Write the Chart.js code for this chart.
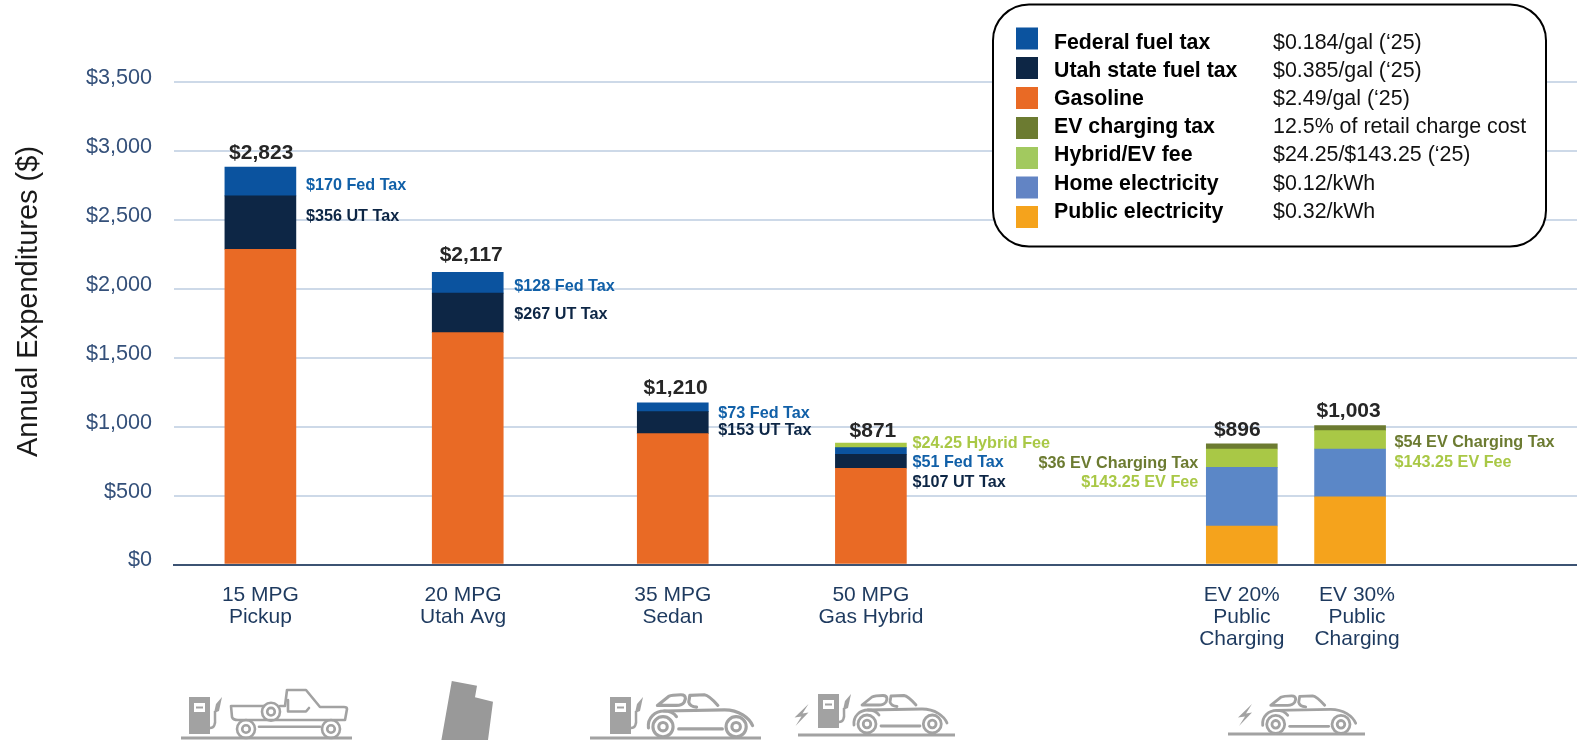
<!DOCTYPE html>
<html>
<head>
<meta charset="utf-8">
<title>Annual Expenditures by Vehicle</title>
<script src="https://cdn.jsdelivr.net/npm/chart.js@4/dist/chart.umd.min.js"></script>
<style>
html,body{margin:0;padding:0;background:#fff;overflow:hidden}
canvas{display:block}
</style>
</head>
<body>
<canvas id="c" width="1577" height="740"></canvas>
<script>
// ---- data ----
const categories = [["15 MPG","Pickup"],["20 MPG","Utah Avg"],["35 MPG","Sedan"],["50 MPG","Gas Hybrid"],["EV 20%","Public","Charging"],["EV 30%","Public","Charging"]];
const gasoline   = [2287,1682,949,698,null,null];
const utahTax    = [387,286,160,102,null,null];
const federalTax = [208,152,63,48,null,null];
const publicElec = [null,null,null,null,279,490];
const homeElec   = [null,null,null,null,426,348];
const hybridEvFee= [null,null,null,32,133,133];
const evTax      = [null,null,null,null,37,36];
const totals     = ["$2,823","$2,117","$1,210","$871","$896","$1,003"];
const yTicks     = [0,500,1000,1500,2000,2500,3000,3500];
const legendNames= ["Federal fuel tax","Utah state fuel tax","Gasoline","EV charging tax","Hybrid/EV fee","Home electricity","Public electricity"];
const legendRates= ["$0.184/gal (\u201825)","$0.385/gal (\u201825)","$2.49/gal (\u201825)","12.5% of retail charge cost","$24.25/$143.25 (\u201825)","$0.12/kWh","$0.32/kWh"];

// ---- styles and layout (not data) ----
const FONT = '"Liberation Sans", Arial, sans-serif';
const C = {fed:'#0B539F', ut:'#0D2645', gas:'#E96A25', tax:'#6C7B31', fee:'#A9C846', home:'#5B87C7', pub:'#F5A31C'};
const legendColors = [C.fed,C.ut,C.gas,C.tax,'#A2C95F','#6284C4',C.pub];
const legendRowY = [42.7,70.7,98.7,127,155,183.7,211.7];
const legendSwatchY = [27.5,57,87,117,147,176.5,206];
const fedText = '#1160A8';
const callouts = [
  ["$170 Fed Tax",fedText,0,'left',185.3,1],["$356 UT Tax",C.ut,0,'left',216.7,1],
  ["$128 Fed Tax",fedText,1,'left',286.6,2],["$267 UT Tax",C.ut,1,'left',314.8,2],
  ["$73 Fed Tax",fedText,2,'left',413.7,1],["$153 UT Tax",C.ut,2,'left',431,1],
  ["$24.25 Hybrid Fee",C.fee,3,'left',443.3,-3],["$51 Fed Tax",fedText,3,'left',462.7,-3],["$107 UT Tax",C.ut,3,'left',482.7,-3],
  ["$36 EV Charging Tax",C.tax,4,'right',463.7,-1],["$143.25 EV Fee",C.fee,4,'right',483,-1],
  ["$54 EV Charging Tax",C.tax,5,'left',443,0],["$143.25 EV Fee",C.fee,5,'left',463,0]
];
const totalLabelY = [153,255.5,388,430.8,429.8,411.5];
const totalLabelDx = [0.8,3.5,2.8,2,-4.5,-1.5];

// The vehicle spacing is uneven, so blank categories sit between the vehicles.
const leadSlots = 37, gapSlots = [90,89,86,161,47], tailSlots = 98;
const labelSlotShift = [0,-2,0,0,0,3];
const slotIndex = []; gapSlots.reduce((p,g,i)=>{ if(i===0) slotIndex.push(p); slotIndex.push(p+g); return p+g; }, leadSlots);
const slotCount = slotIndex[slotIndex.length-1] + 1 + tailSlots;
const slotLabels = Array.from({length:slotCount},()=> '');
slotIndex.forEach((s,i)=>{ slotLabels[s+labelSlotShift[i]]=categories[i]; });
function spread(series){ const out=new Array(slotCount).fill(null); slotIndex.forEach((s,i)=>{out[s]=series[i];}); return out; }
const ds=(label,data,color)=>({label,data:spread(data),backgroundColor:color,borderWidth:0,barThickness:71,stack:'s'});

// ---- vehicle pictograms ----
const GREY='#A2A2A2';
function pump(ctx,x,y,h){
  ctx.save();ctx.fillStyle=GREY;ctx.fillRect(x,y,21,h);
  ctx.fillStyle='#fff';ctx.fillRect(x+5,y+6,11,9);
  ctx.fillStyle=GREY;ctx.fillRect(x+7,y+9.5,7,2);
  ctx.strokeStyle=GREY;ctx.lineWidth=2.5;ctx.beginPath();
  ctx.moveTo(x+21,y+h-6);ctx.quadraticCurveTo(x+27,y+h-6,x+26,y+h-16);ctx.lineTo(x+26,y+14);ctx.stroke();
  ctx.fillStyle=GREY;ctx.beginPath();ctx.moveTo(x+25,y+16);ctx.lineTo(x+27,y+7);ctx.lineTo(x+33,y);ctx.lineTo(x+30,y+14);ctx.closePath();ctx.fill();
  ctx.restore();
}
function bolt(ctx,x,y){
  ctx.save();ctx.fillStyle=GREY;ctx.translate(x,y);ctx.beginPath();
  [[14,0],[0,13.5],[7,12.5],[1,22],[14,8.5],[8,9.5]].forEach((p,i)=>i?ctx.lineTo(p[0],p[1]):ctx.moveTo(p[0],p[1]));
  ctx.closePath();ctx.fill();ctx.restore();
}
function wheel(ctx,x,y,r){
  ctx.beginPath();ctx.arc(x,y,r,0,Math.PI*2);ctx.stroke();
  ctx.beginPath();ctx.arc(x,y,r*0.42,0,Math.PI*2);ctx.stroke();
}
function car(ctx,x,y,sx){
  ctx.save();ctx.translate(x,y);ctx.scale(sx,sx);ctx.strokeStyle=GREY;ctx.lineWidth=2.8;ctx.lineCap='round';ctx.lineJoin='round';
  ctx.stroke(new Path2D('M-13,1 C-14,-8 -7,-14 1,-14 C6,-14 10,-12 12,-9'));
  ctx.stroke(new Path2D('M1,-14 L55,-15 C68,-15 77,-8 80,-1'));
  ctx.stroke(new Path2D('M-5,-19 L5,-27 Q8,-28.5 16,-28.5 Q20,-28.5 20,-25 L19,-22 Q17,-19 12,-19 Z'));
  ctx.stroke(new Path2D('M24,-28 L37,-28.5 Q41,-28 49,-19 M24,-28 L23,-22 Q24,-18 30,-17.5'));
  ctx.stroke(new Path2D('M14,2 L53,2'));
  wheel(ctx,0,0,9);wheel(ctx,65.3,0,9);
  ctx.restore();
}
function pickup(ctx){
  ctx.save();ctx.strokeStyle=GREY;ctx.lineWidth=2.6;ctx.lineJoin='round';ctx.lineCap='round';
  ctx.stroke(new Path2D('M231,706 L264,706 M231,706 L232,717 Q233,720 238,720 L345,720 L347,709 Q347,707 344,707 L320,707 L306,690 L287,690 L285,706 L280,706'));
  ctx.stroke(new Path2D('M288,711.5 L306,711.5 L309,708 M288,700 L288,711'));
  ctx.stroke(new Path2D('M259,726.7 L320,726.7'));
  wheel(ctx,246,729,9);wheel(ctx,331,729,9);wheel(ctx,271,711.7,9);
  ctx.restore();
}
const iconsPlugin={id:'icons',afterDraw(chart){
  const ctx=chart.ctx;ctx.save();ctx.fillStyle=GREY;
  ctx.fillRect(181,736.5,171,3);ctx.fillRect(590,736.5,171,3);ctx.fillRect(798,733.5,157,3);ctx.fillRect(1228,732.5,137,3);
  pump(ctx,189,697,37);pickup(ctx);
  ctx.fillStyle='#999';ctx.beginPath();
  [[451.8,681],[477,685.7],[475,697.3],[493,701.7],[488,740],[441.4,740]].forEach((p,i)=>i?ctx.lineTo(p[0],p[1]):ctx.moveTo(p[0],p[1]));
  ctx.closePath();ctx.fill();
  pump(ctx,610,697,37);car(ctx,663,726.7,1.12);
  bolt(ctx,794.5,704);pump(ctx,818,694,34);car(ctx,867,724,1.0);
  bolt(ctx,1238,704);car(ctx,1275.7,724.3,1.0);
  ctx.restore();
}};

// ---- totals, callouts, axis title, legend box ----
const textPlugin={id:'texts',afterDraw(chart){
  const ctx=chart.ctx,xs=chart.scales.x;ctx.save();ctx.textBaseline='middle';
  // axis title
  ctx.save();ctx.translate(36.5,301.5);ctx.rotate(-Math.PI/2);ctx.textAlign='center';ctx.textBaseline='alphabetic';
  ctx.fillStyle='#1a1a1a';ctx.font='29px '+FONT;ctx.fillText('Annual Expenditures ($)',0,0);ctx.restore();
  // totals
  ctx.textAlign='center';ctx.fillStyle='#262626';ctx.font='bold 21px '+FONT;
  totals.forEach((t,i)=>ctx.fillText(t,xs.getPixelForValue(slotIndex[i])+totalLabelDx[i],totalLabelY[i]));
  // callouts
  ctx.font='bold 16.2px '+FONT;
  callouts.forEach(([t,col,i,side,y,dx])=>{
    const cx=xs.getPixelForValue(slotIndex[i]);ctx.fillStyle=col;
    if(side==='left'){ctx.textAlign='left';ctx.fillText(t,cx+44.5+dx,y);}
    else{ctx.textAlign='right';ctx.fillText(t,cx-42.5+dx,y);}
  });
  // legend box
  ctx.beginPath();ctx.roundRect(993,4.5,553,242,36);ctx.fillStyle='#fff';ctx.fill();
  ctx.lineWidth=2;ctx.strokeStyle='#000';ctx.stroke();
  ctx.textAlign='left';
  legendNames.forEach((n,i)=>{
    ctx.fillStyle=legendColors[i];ctx.fillRect(1016,legendSwatchY[i],22,22);
    ctx.fillStyle='#000';ctx.font='bold 21.3px '+FONT;ctx.fillText(n,1054,legendRowY[i]);
    ctx.fillStyle='#111';ctx.font='21.4px '+FONT;ctx.fillText(legendRates[i],1273,legendRowY[i]);
  });
  ctx.restore();
}};

new Chart(document.getElementById('c'),{
  type:'bar',
  data:{labels:slotLabels,datasets:[
    ds('Gasoline',gasoline,C.gas),
    ds('Utah state fuel tax',utahTax,C.ut),
    ds('Federal fuel tax',federalTax,C.fed),
    ds('Public electricity',publicElec,C.pub),
    ds('Home electricity',homeElec,C.home),
    ds('Hybrid/EV fee',hybridEvFee,C.fee),
    ds('EV charging tax',evTax,C.tax)
  ]},
  options:{
    responsive:false,animation:false,devicePixelRatio:1,
    layout:{autoPadding:false,padding:{top:82,left:0,right:0,bottom:0}},
    plugins:{legend:{display:false},tooltip:{enabled:false},title:{display:false}},
    scales:{
      x:{stacked:true,offset:true,
        grid:{display:false,drawTicks:false},
        border:{display:true,color:'#3C5373',width:2},
        ticks:{autoSkip:false,maxRotation:0,minRotation:0,padding:19.5,color:'#1E3A5F',font:{family:FONT,size:21,lineHeight:1.06}},
        afterFit(s){s.height=175.5;s.paddingLeft=0;s.paddingRight=0;}
      },
      y:{stacked:true,min:0,max:3500,
        afterBuildTicks(s){s.ticks=yTicks.map(v=>({value:v}));},
        grid:{color:'#CDD9E8',lineWidth:2,drawTicks:false},
        border:{display:false},
        ticks:{padding:22,labelOffset:-4,color:'#34507A',font:{family:FONT,size:21.6},
          callback:v=>'$'+Number(v).toLocaleString('en-US')},
        afterFit(s){s.width=174;}
      }
    }
  },
  plugins:[iconsPlugin,textPlugin]
});
</script>
</body>
</html>
